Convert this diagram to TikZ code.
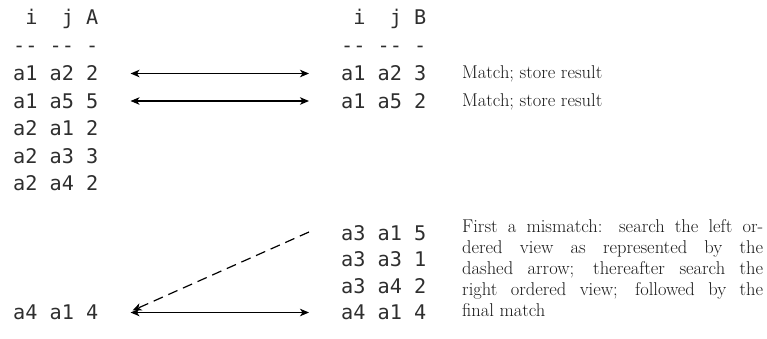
\documentclass[tikz,border=0pt]{standalone}
\usepackage{fontspec}
\newfontfamily\monof{DejaVu Sans Mono}
\usetikzlibrary{arrows.meta,calc}
\begin{document}
\begin{tikzpicture}[x=1pt,y=-1pt,
  cell/.style={font=\monof\fontsize{20.2}{24}\selectfont, inner sep=0pt,
    text height=14.6pt, text depth=0pt, anchor=west, text=black!82},
  note/.style={font=\fontsize{18.5}{21}\selectfont, inner sep=0pt, anchor=base west, text=black!90},
  para/.style={font=\fontsize{18.5}{21}\selectfont, inner sep=0pt, anchor=north west,
    text width=301pt, align=justify, text=black!90},
  link/.style={{Stealth[length=9pt,width=7.5pt,inset=2.5pt]}-{Stealth[length=9pt,width=7.5pt,inset=2.5pt]},
    line width=1.2pt, shorten <=32pt, shorten >=32pt},
  search/.style={-{Stealth[length=9pt,width=7.5pt,inset=2.5pt]}, line width=1.2pt, dash pattern=on 10pt off 6pt}]
\useasboundingbox (0,0) rectangle (767,338);
% left table
\node[cell] (LH) at (13,17) {\phantom{0}i\phantom{00}j A};
\node[cell] (LD) at (13,45.5) {-{}- -{}- -};
\node[cell] (L1) at (13,73.5) {a1 a2 2};
\node[cell] (L2) at (13,101) {a1 a5 5};
\node[cell] (L3) at (13,128.5) {a2 a1 2};
\node[cell] (L4) at (13,156) {a2 a3 3};
\node[cell] (L5) at (13,183.5) {a2 a4 2};
\node[cell] (L6) at (13,312.5) {a4 a1 4};
% right table
\node[cell] (RH) at (341,17) {\phantom{0}i\phantom{00}j B};
\node[cell] (RD) at (341,45.5) {-{}- -{}- -};
\node[cell] (R1) at (341,73.5) {a1 a2 3};
\node[cell] (R2) at (341,101) {a1 a5 2};
\node[cell] (R3) at (341,233) {a3 a1 5};
\node[cell] (R4) at (341,259.5) {a3 a3 1};
\node[cell] (R5) at (341,286) {a3 a4 2};
\node[cell] (R6) at (341,312.5) {a4 a1 4};
% notes
\node[note] (N1) at (462,78.5) {Match; store result};
\node[note] (N2) at (462,106) {Match; store result};
\node[para] (P) at (462,219) {First a mismatch: search the left or-\linebreak
 dered view as represented by the\linebreak
 dashed arrow; thereafter search the\linebreak
 right ordered view; followed by the\linebreak
 final match};
% connectors
\draw[link] (L1.east) -- (R1.west);
\draw[link] (L2.east) -- (R2.west);
\draw[link] (L6.east) -- (R6.west);
\coordinate (S) at ($(R3.west)+(-32,-1)$);
\draw[search] (S) -- ($(L6.east)+(34,-2)$);
\end{tikzpicture}
\end{document}
